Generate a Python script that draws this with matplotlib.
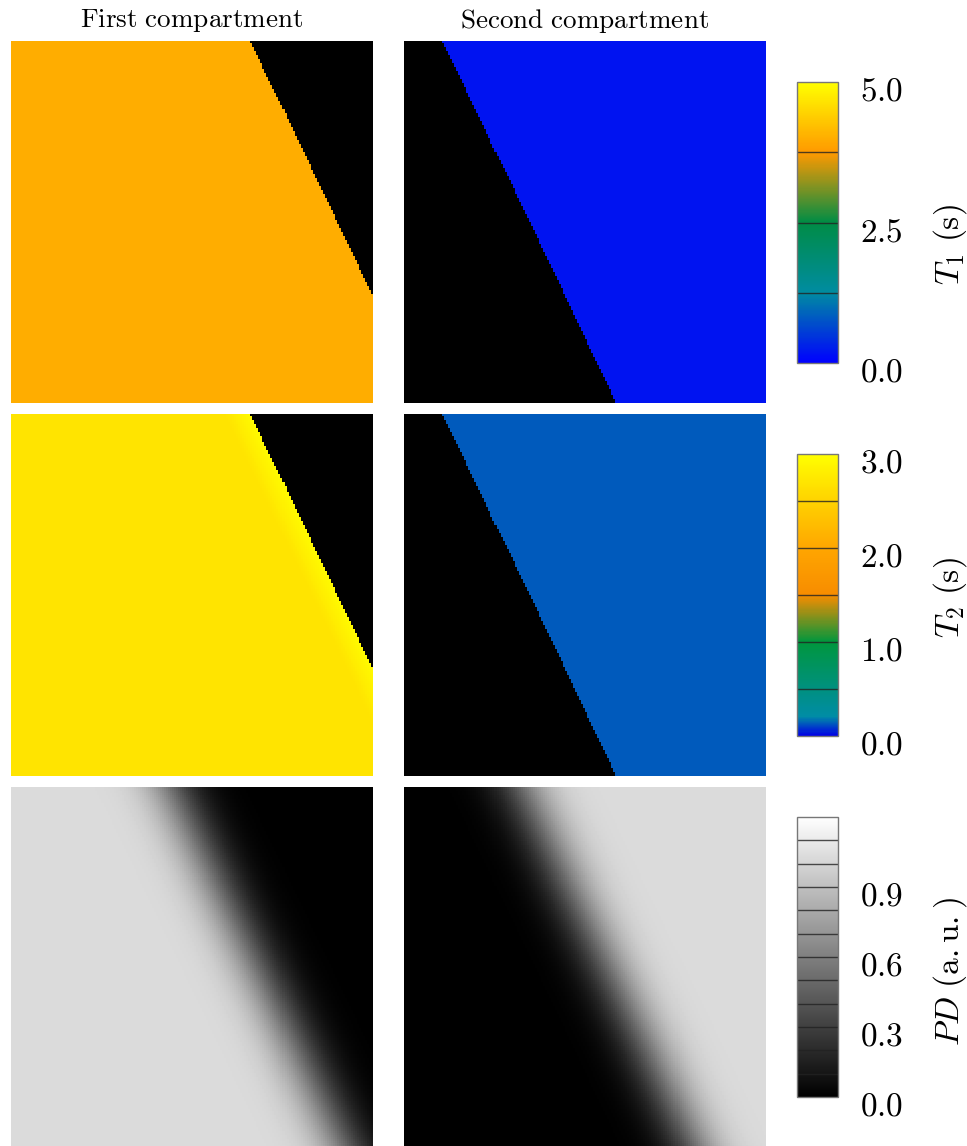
import math
import numpy as np
import matplotlib
matplotlib.use("Agg")
import matplotlib.pyplot as plt
from matplotlib.colors import LinearSegmentedColormap, Normalize
from matplotlib.cm import ScalarMappable
from matplotlib.transforms import ScaledTranslation

plt.rcParams['mathtext.fontset'] = 'cm'
plt.rcParams['font.family'] = ['DejaVu Serif']

# ---- tissue parameters of the two compartments ----
compartments = ["First compartment", "Second compartment"]
t1_values = [4.0, 0.18]        # s
t2_values = [2.7, 0.14]        # s
t2_edge_value = 2.95           # s, first compartment right at its border
pd_values = [1.03, 1.03]       # a.u.

# ---- partial-volume profile across the tilted interface (panel units) ----
pd_centres = [0.442, 0.326]    # first compartment decays, second one rises
pd_width = 0.11
pd_threshold = 0.0025          # below this the compartment is not mapped
pd_edge_level = 0.03
interface_tilt = 0.48
grid_size = 180

# ---- colour bars ----
t1_range = (0.0, 5.0)
t1_ticks = [0.0, 2.5, 5.0]
t1_lines = [1.25, 2.5, 3.75]
t2_range = (0.0, 3.0)
t2_ticks = [0.0, 1.0, 2.0, 3.0]
t2_lines = [0.5, 1.0, 1.5, 2.0, 2.5]
pd_range = (0.0, 1.2)
pd_ticks = [0.0, 0.3, 0.6, 0.9]
pd_lines = [0.1, 0.2, 0.3, 0.4, 0.5, 0.6, 0.7, 0.8, 0.9, 1.0, 1.1]

t1_cmap = LinearSegmentedColormap.from_list("t1", [
    (0.00, (0.00, 0.00, 1.00)),
    (0.25, (0.00, 0.55, 0.63)),
    (0.50, (0.00, 0.55, 0.27)),
    (0.75, (1.00, 0.60, 0.00)),
    (1.00, (1.00, 1.00, 0.00)),
]).with_extremes(bad="black")
t2_cmap = LinearSegmentedColormap.from_list("t2", [
    (0.000, (0.00, 0.00, 0.90)),
    (0.067, (0.00, 0.55, 0.65)),
    (0.333, (0.00, 0.59, 0.24)),
    (0.500, (0.97, 0.55, 0.00)),
    (0.667, (1.00, 0.65, 0.00)),
    (1.000, (1.00, 1.00, 0.00)),
]).with_extremes(bad="black")
pd_cmap = plt.get_cmap("gray")

# ---- maps ----
erfc = np.vectorize(math.erfc)
coords = (np.arange(grid_size) + 0.5) / grid_size
X, Y = np.meshgrid(coords, coords)          # Y runs downwards
u = X - interface_tilt * Y

pd_maps = [
    pd_values[0] * 0.5 * erfc((u - pd_centres[0]) / pd_width),
    pd_values[1] * 0.5 * erfc(-(u - pd_centres[1]) / pd_width),
]
masks = [pd < pd_threshold for pd in pd_maps]

edge_frac = np.clip(np.log(pd_edge_level / np.maximum(pd_maps[0], 1e-12))
                    / np.log(pd_edge_level / pd_threshold), 0, 1)
t2_first = t2_values[0] + (t2_edge_value - t2_values[0]) * edge_frac

t1_maps = [np.ma.masked_where(masks[i], np.full_like(u, t1_values[i])) for i in range(2)]
t2_maps = [np.ma.masked_where(masks[0], t2_first),
           np.ma.masked_where(masks[1], np.full_like(u, t2_values[1]))]

rows = [
    (t1_maps, t1_cmap, t1_range, t1_ticks, t1_lines, r"$T_1\ \mathrm{(s)}$"),
    (t2_maps, t2_cmap, t2_range, t2_ticks, t2_lines, r"$T_2\ \mathrm{(s)}$"),
    (pd_maps, pd_cmap, pd_range, pd_ticks, pd_lines, r"$PD\ \mathrm{(a.u.)}$"),
]

W, H = 967, 1146
fig = plt.figure(figsize=(W / 100, H / 100), dpi=100)

col_left = [11, 404]
row_top = [41, 414, 787]
panel = 362
cbar_x, cbar_w = 797, 41
cbar_spans = [(82, 363), (454, 736), (817, 1097)]
label_centres = [245, 598, 972]
tick_shift = ScaledTranslation(0, -6 / 100, fig.dpi_scale_trans)


def frac_box(x0, y0, w, h):
    return [x0 / W, 1 - (y0 + h) / H, w / W, h / H]


for r, (maps, cmap, vrange, ticks, lines, label) in enumerate(rows):
    for c in range(2):
        ax = fig.add_axes(frac_box(col_left[c], row_top[r], panel, panel))
        ax.imshow(maps[c], cmap=cmap, vmin=vrange[0], vmax=vrange[1],
                  interpolation="nearest", aspect="auto")
        ax.set_axis_off()

    y0, y1 = cbar_spans[r]
    cax = fig.add_axes(frac_box(cbar_x, y0, cbar_w, y1 - y0))
    sm = ScalarMappable(norm=Normalize(*vrange), cmap=cmap)
    cb = fig.colorbar(sm, cax=cax, ticks=ticks)
    cb.set_ticklabels([f"${t:.1f}$" for t in ticks])
    cb.ax.tick_params(length=0, labelsize=24, pad=16)
    for lbl in cb.ax.get_yticklabels():
        lbl.set_transform(lbl.get_transform() + tick_shift)
    cb.outline.set_edgecolor("#777777")
    cb.outline.set_linewidth(1.0)
    for v in lines:
        cax.axhline(v, color="#222222", lw=1.0, alpha=0.8)
    fig.text(950 / W, 1 - label_centres[r] / H, label,
             rotation=90, ha="center", va="center", fontsize=24)

for c, name in enumerate(compartments):
    fig.text((col_left[c] + panel / 2) / W, 1 - 21 / H,
             r"$\mathrm{" + name.replace(" ", r"\ ") + "}$",
             ha="center", va="center", fontsize=19.5)

fig.savefig("out.png", dpi=100)
